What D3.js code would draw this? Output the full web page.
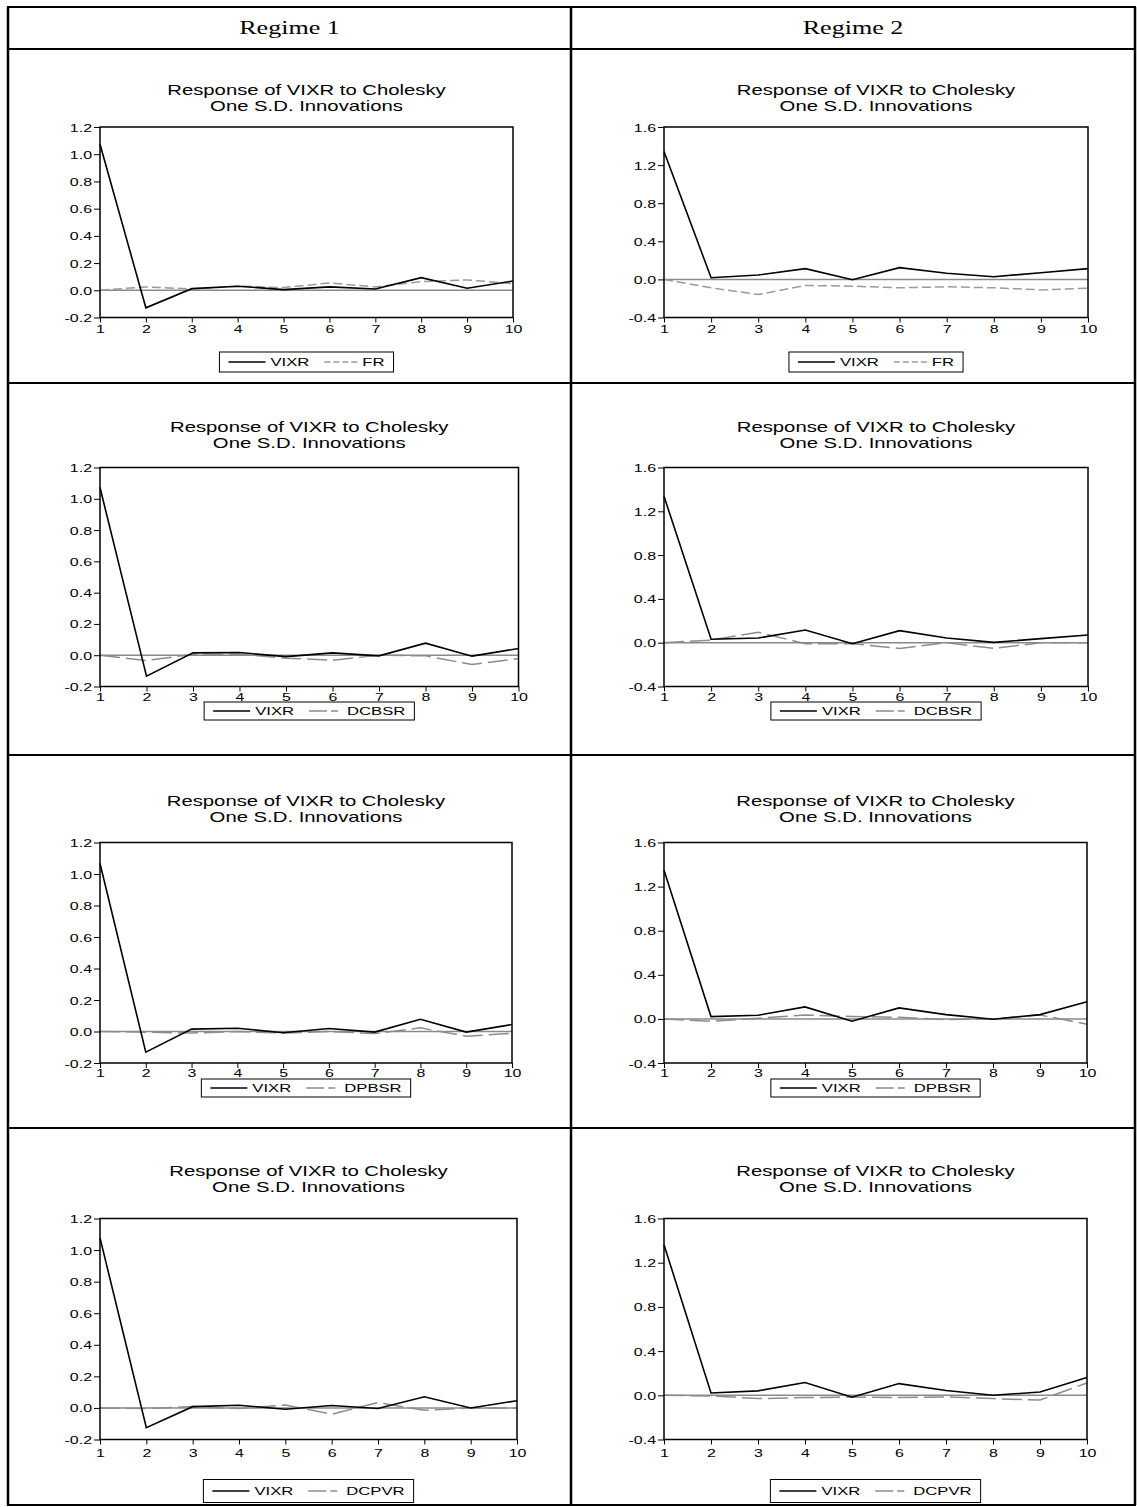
<!DOCTYPE html>
<html>
<head>
<meta charset="utf-8">
<script src="https://cdn.jsdelivr.net/npm/d3@7"></script>
<style>
    body { margin: 0; background: #fff; }
</style>
</head>
<body>
<div id="container"></div>
<script>
// periods on the x axis
const periods = [1, 2, 3, 4, 5, 6, 7, 8, 9, 10];

// y tick labels
const yTicksRegime1 = [-0.2, 0.0, 0.2, 0.4, 0.6, 0.8, 1.0, 1.2];
const yTicksRegime2 = [-0.4, 0.0, 0.4, 0.8, 1.2, 1.6];
const regimeNames = ["Regime 1", "Regime 2"];
const shockNames = ["FR", "DCBSR", "DPBSR", "DCPVR"];

// responses of VIXR
const reg1_FR_vixr = [1.073, -0.129, 0.012, 0.03, 0.005, 0.025, 0.01, 0.093, 0.015, 0.068];
const reg1_FR_fr = [0, 0.025, 0.01, 0.03, 0.02, 0.054, 0.025, 0.063, 0.076, 0.049];
const reg2_FR_vixr = [1.343, 0.017, 0.046, 0.113, -0.004, 0.123, 0.064, 0.028, 0.07, 0.113];
const reg2_FR_fr = [0, -0.088, -0.159, -0.064, -0.071, -0.088, -0.078, -0.088, -0.11, -0.092];

const reg1_DCBSR_vixr = [1.072, -0.134, 0.015, 0.017, -0.009, 0.015, -0.004, 0.077, -0.006, 0.043];
const reg1_DCBSR_dcbsr = [0, -0.034, 0.006, 0.006, -0.019, -0.032, 0, -0.004, -0.06, -0.021];
const reg2_DCBSR_vixr = [1.337, 0.031, 0.043, 0.116, -0.009, 0.11, 0.043, 0.003, 0.037, 0.07];
const reg2_DCBSR_dcbsr = [0, 0.024, 0.095, -0.009, -0.009, -0.052, 0, -0.052, 0, 0];

const reg1_DPBSR_vixr = [1.067, -0.131, 0.015, 0.021, -0.008, 0.019, -0.004, 0.078, -0.004, 0.044];
const reg1_DPBSR_dpbsr = [0, -0.004, -0.01, 0, -0.01, 0, -0.013, 0.023, -0.03, -0.012];
const reg2_DPBSR_vixr = [1.348, 0.021, 0.033, 0.109, -0.021, 0.1, 0.039, -0.003, 0.039, 0.155];
const reg2_DPBSR_dpbsr = [0, -0.021, 0.006, 0.036, 0.021, 0.015, -0.006, 0, 0.036, -0.048];

const reg1_DCPVR_vixr = [1.077, -0.125, 0.008, 0.017, -0.008, 0.015, -0.004, 0.071, 0, 0.046];
const reg1_DCPVR_dcpvr = [0, -0.004, 0.009, -0.004, 0.019, -0.04, 0.034, -0.015, 0, 0];
const reg2_DCPVR_vixr = [1.362, 0.021, 0.04, 0.116, -0.018, 0.106, 0.043, 0, 0.03, 0.161];
const reg2_DCPVR_dcpvr = [0, -0.006, -0.03, -0.021, -0.015, -0.021, -0.015, -0.03, -0.043, 0.112];

const seriesByRow = [
    [[reg1_FR_vixr, reg1_FR_fr], [reg2_FR_vixr, reg2_FR_fr]],
    [[reg1_DCBSR_vixr, reg1_DCBSR_dcbsr], [reg2_DCBSR_vixr, reg2_DCBSR_dcbsr]],
    [[reg1_DPBSR_vixr, reg1_DPBSR_dpbsr], [reg2_DPBSR_vixr, reg2_DPBSR_dpbsr]],
    [[reg1_DCPVR_vixr, reg1_DCPVR_dcpvr], [reg2_DCPVR_vixr, reg2_DCPVR_dcpvr]]
];

// page layout (the original picture is stretched sideways)
const width = 1137, height = 1507;
const SX = 1.45;
const sans = "'Liberation Sans', Arial, sans-serif";
const serif = "'Liberation Serif', 'Times New Roman', serif";

const rows = [
    { top: 127, bottom: 317.5, title: 90, legend: 362, tickOff: 15.5, legendH: 20 },
    { top: 467.5, bottom: 686.5, title: 426.5, legend: 711, tickOff: 14, legendH: 18 },
    { top: 842.5, bottom: 1063, title: 801, legend: 1088, tickOff: 14, legendH: 18 },
    { top: 1218.5, bottom: 1439.5, title: 1171, legend: 1491, tickOff: 17.5, legendH: 23 }
];
const cols = [
    { left: 100, rights: [513, 518.5, 512, 517], ticks: yTicksRegime1, domain: [-0.2, 1.2] },
    { left: 664, rights: [1088, 1088, 1087, 1087], ticks: yTicksRegime2, domain: [-0.4, 1.6] }
];
const tableX = [8, 571, 1135];
const tableY = [7, 49, 383, 755, 1128, 1505];

const otherDash = ["9,4", "20,6", "20,6", "20,6"];
const legendDash = ["6,3", "18,4,7,4", "18,4,7,4", "18,4,7,4"];
const otherColor = ["#9a9a9a", "#8c8c8c", "#8c8c8c", "#8c8c8c"];

const svg = d3.select("#container").append("svg")
    .attr("width", width)
    .attr("height", height)
    .attr("viewBox", `0 0 ${width} ${height}`);

function sText(parent, x, y, str, size, anchor, family) {
    return parent.append("text")
        .attr("transform", `translate(${x},${y}) scale(${SX},1)`)
        .attr("text-anchor", anchor || "middle")
        .style("font-family", family || sans)
        .style("font-size", size + "px")
        .attr("fill", "#000")
        .text(str);
}

/* table grid */
const grid = svg.append("g");
tableY.forEach(y => {
    grid.append("line").attr("x1", tableX[0] - 1).attr("x2", tableX[2] + 1)
        .attr("y1", y).attr("y2", y).attr("stroke", "#000").attr("stroke-width", 2);
});
tableX.forEach(x => {
    grid.append("line").attr("x1", x).attr("x2", x)
        .attr("y1", tableY[0]).attr("y2", tableY[tableY.length - 1])
        .attr("stroke", "#000").attr("stroke-width", 2.5);
});
regimeNames.forEach((name, i) => {
    sText(grid, (tableX[i] + tableX[i + 1]) / 2, 34, name, 18, "middle", serif);
});

function drawChart(r, c) {
    const row = rows[r], col = cols[c];
    const left = col.left, right = col.rights[r];
    const [vixr, other] = seriesByRow[r][c];
    const g = svg.append("g");

    const x = d3.scaleLinear().domain([1, 10]).range([left, right]);
    const y = d3.scaleLinear().domain(col.domain).range([row.bottom, row.top]);
    const cx = (left + right) / 2;

    // title
    sText(g, cx, row.title + 5, "Response of VIXR to Cholesky", 14);
    sText(g, cx, row.title + 21, "One S.D. Innovations", 14);

    // axes
    const xAxis = d3.axisBottom(x).tickValues(periods).tickSize(5).tickSizeOuter(0)
        .tickFormat(d => d);
    const gx = g.append("g").attr("transform", `translate(0,${row.bottom})`).call(xAxis);
    gx.select(".domain").remove();
    gx.selectAll(".tick line").attr("stroke", "#000");
    gx.selectAll(".tick text")
        .attr("y", null).attr("dy", null)
        .attr("transform", `translate(0,${row.tickOff}) scale(${SX},1)`)
        .style("font-family", sans).style("font-size", "11px").attr("fill", "#000");

    const yAxis = d3.axisLeft(y).tickValues(col.ticks).tickSize(6).tickSizeOuter(0)
        .tickFormat(d => d.toFixed(1));
    const gy = g.append("g").attr("transform", `translate(${left},0)`).call(yAxis);
    gy.select(".domain").remove();
    gy.selectAll(".tick line").attr("stroke", "#000");
    gy.selectAll(".tick text")
        .attr("x", null).attr("dy", null)
        .attr("transform", `translate(-8,4) scale(${SX},1)`)
        .style("font-family", sans).style("font-size", "11px").attr("fill", "#000");

    // zero line
    g.append("line")
        .attr("x1", left).attr("x2", right)
        .attr("y1", y(0)).attr("y2", y(0))
        .attr("stroke", "#8a8a8a").attr("stroke-width", 1.5);

    const line = d3.line()
        .x((d, i) => x(periods[i]))
        .y(d => y(d));

    g.append("path")
        .attr("d", line(other))
        .attr("fill", "none")
        .attr("stroke", otherColor[r])
        .attr("stroke-width", 1.5)
        .attr("stroke-dasharray", otherDash[r]);

    g.append("path")
        .attr("d", line(vixr))
        .attr("fill", "none")
        .attr("stroke", "#000")
        .attr("stroke-width", 1.6);

    // frame
    g.append("rect")
        .attr("x", left).attr("y", row.top)
        .attr("width", right - left).attr("height", row.bottom - row.top)
        .attr("fill", "none").attr("stroke", "#000").attr("stroke-width", 1.5);

    // legend
    const lg = g.append("g");
    const pad = 9, l1 = 37, l2 = 33, gap = 5, sep = 15;
    const t1 = sText(lg, 0, row.legend + 4, "VIXR", 11.5, "start");
    const t2 = sText(lg, 0, row.legend + 4, shockNames[r], 11.5, "start");
    const w1 = t1.node().getComputedTextLength() * SX;
    const w2 = t2.node().getComputedTextLength() * SX;
    const total = pad + l1 + gap + w1 + sep + l2 + gap + w2 + pad;
    const x0 = cx - total / 2;
    lg.insert("rect", "text")
        .attr("x", x0).attr("y", row.legend - row.legendH / 2)
        .attr("width", total).attr("height", row.legendH)
        .attr("fill", "none").attr("stroke", "#000").attr("stroke-width", 1);
    lg.append("line")
        .attr("x1", x0 + pad).attr("x2", x0 + pad + l1)
        .attr("y1", row.legend).attr("y2", row.legend)
        .attr("stroke", "#000").attr("stroke-width", 1.5);
    t1.attr("transform", `translate(${x0 + pad + l1 + gap},${row.legend + 4}) scale(${SX},1)`);
    const x2 = x0 + pad + l1 + gap + w1 + sep;
    lg.append("line")
        .attr("x1", x2).attr("x2", x2 + l2)
        .attr("y1", row.legend).attr("y2", row.legend)
        .attr("stroke", otherColor[r]).attr("stroke-width", 1.5)
        .attr("stroke-dasharray", legendDash[r]);
    t2.attr("transform", `translate(${x2 + l2 + gap},${row.legend + 4}) scale(${SX},1)`);
}

for (let r = 0; r < rows.length; r++) {
    for (let c = 0; c < cols.length; c++) {
        drawChart(r, c);
    }
}
</script>
</body>
</html>
